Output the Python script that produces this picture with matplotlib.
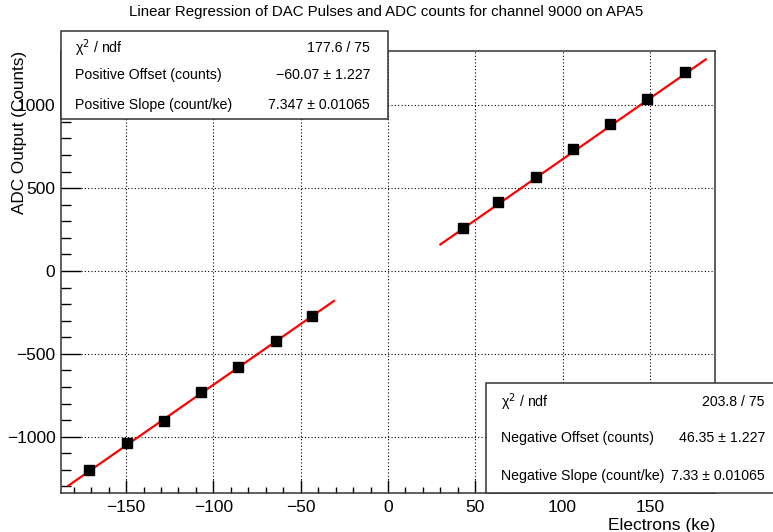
import numpy as np
import matplotlib
matplotlib.use("Agg")
from matplotlib import pyplot as plt
from matplotlib.patches import Rectangle
from matplotlib.ticker import MultipleLocator

plt.rcParams['font.family'] = ['Liberation Sans', 'DejaVu Sans']

# data
pos_x = [42.8, 63.2, 84.6, 106.0, 127.0, 148.5, 170.0]
pos_y = [258, 418, 569, 735, 886, 1039, 1204]
neg_x = [-171.2, -149.7, -128.1, -107.0, -85.7, -64.1, -43.3]
neg_y = [-1202, -1040, -904, -729, -582, -421, -270]

pos_slope, pos_offset = 7.347, -60.07
neg_slope, neg_offset = 7.33, 46.35
pos_fit_range = [30, 182]
neg_fit_range = [-183, -31]

title = "Linear Regression of DAC Pulses and ADC counts for channel 9000 on APA5"
box1_rows = [("\u03c7$^{2}$ / ndf", "177.6 / 75"),
             ("Positive Offset (counts)", "\u221260.07 \u00b1 1.227"),
             ("Positive Slope (count/ke)", "7.347 \u00b1 0.01065")]
box2_rows = [("\u03c7$^{2}$ / ndf", "203.8 / 75"),
             ("Negative Offset (counts)", "46.35 \u00b1 1.227"),
             ("Negative Slope (count/ke)", "7.33 \u00b1 0.01065")]

W, H = 773, 532
fig = plt.figure(figsize=(W / 100, H / 100), dpi=100)
ax = fig.add_axes([61 / W, 1 - 493 / H, (715 - 61) / W, (493 - 51) / H])

ax.set_xlim(-187.3, 187.3)
ax.set_ylim(-1340, 1328)

ax.grid(True, which='major', color='black', linestyle=(0, (1, 2)), linewidth=0.8)
ax.set_axisbelow(True)

xf = np.array(pos_fit_range)
ax.plot(xf, pos_slope * xf + pos_offset, color='red', lw=1.6, zorder=3)
xf = np.array(neg_fit_range)
ax.plot(xf, neg_slope * xf + neg_offset, color='red', lw=1.6, zorder=3)

ax.plot(pos_x, pos_y, 's', color='black', ms=7.2, zorder=4)
ax.plot(neg_x, neg_y, 's', color='black', ms=7.2, zorder=4)

ax.xaxis.set_major_locator(MultipleLocator(50))
ax.xaxis.set_minor_locator(MultipleLocator(10))
ax.yaxis.set_major_locator(MultipleLocator(500))
ax.yaxis.set_minor_locator(MultipleLocator(100))
ax.tick_params(axis='x', which='major', direction='in', length=9.4, width=1, labelsize=12.5, pad=5)
ax.tick_params(axis='x', which='minor', direction='in', length=4.3, width=1)
ax.tick_params(axis='y', which='major', direction='in', length=14.4, width=1, labelsize=12.5, pad=4)
ax.tick_params(axis='y', which='minor', direction='in', length=7.2, width=1)
for s in ax.spines.values():
    s.set_color('#333333')
    s.set_linewidth(1.1)

ax.set_xlabel("Electrons (ke)", loc='right', fontsize=12.5, labelpad=2)
ax.set_ylabel("ADC Output (Counts)", loc='top', fontsize=12.3)
ax.yaxis.set_label_coords(-0.052, 1.0)

fig.text(386 / W, 1 - 12 / H, title, ha='center', va='center', fontsize=10.8)


def stats_box(x0, y0, x1, y1, rows, tx_left, tx_right, row_y):
    fig.patches.append(Rectangle((x0 / W, 1 - y1 / H), (x1 - x0) / W, (y1 - y0) / H,
                                 transform=fig.transFigure, facecolor='white',
                                 edgecolor='#333333', lw=1.1, zorder=5))
    for (lab, val), yy in zip(rows, row_y):
        fig.text(tx_left / W, 1 - yy / H, lab, ha='left', va='center', fontsize=10.2, zorder=6)
        fig.text(tx_right / W, 1 - yy / H, val, ha='right', va='center', fontsize=10.2, zorder=6)


stats_box(61, 31, 388, 119, box1_rows, 75, 370, [48, 75, 105])
stats_box(486, 383, 790, 493, box2_rows, 501, 765, [402, 438, 476])

fig.savefig("out.png", dpi=100)
